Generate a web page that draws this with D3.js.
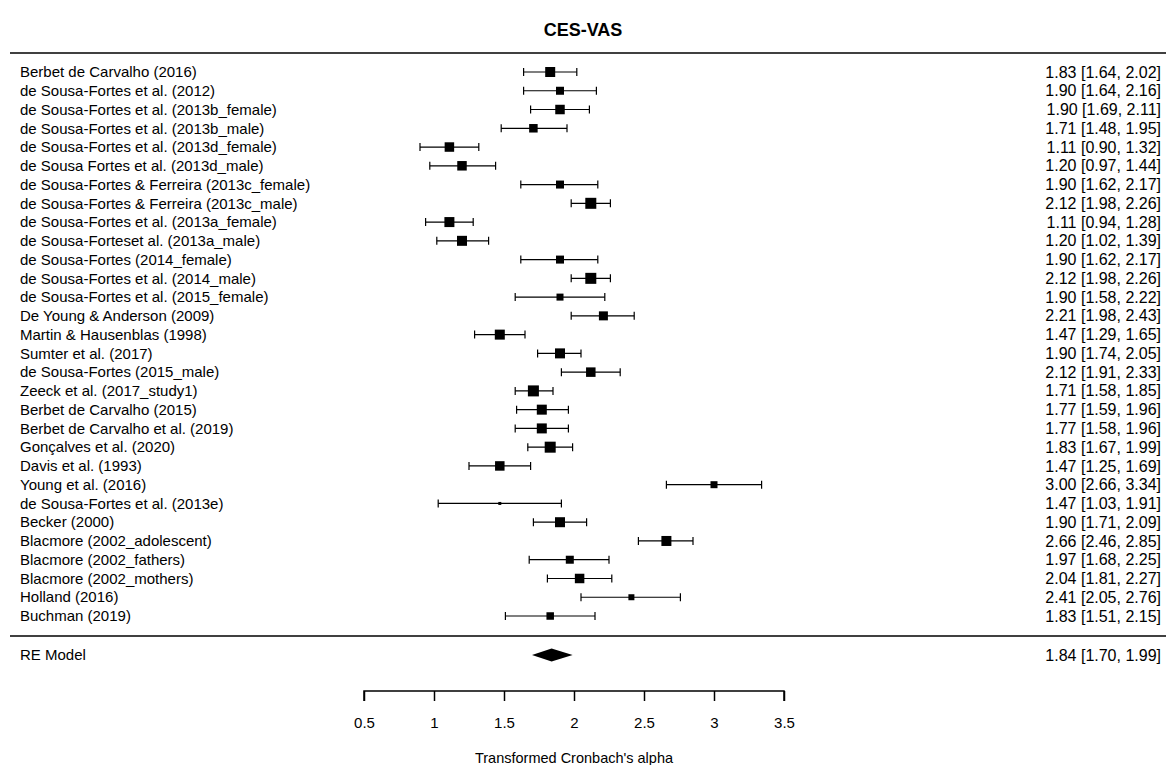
<!DOCTYPE html>
<html>
<head>
<meta charset="utf-8">
<script src="https://cdn.jsdelivr.net/npm/d3@7"></script>
<style>
  body { margin: 0; background: #fff; }
  svg { display: block; font-family: "Liberation Sans", Arial, sans-serif; }
</style>
</head>
<body>
<svg id="chart" width="1166" height="765"></svg>
<script>
const studies = [
  'Berbet de Carvalho (2016)',
  'de Sousa-Fortes et al. (2012)',
  'de Sousa-Fortes et al. (2013b_female)',
  'de Sousa-Fortes et al. (2013b_male)',
  'de Sousa-Fortes et al. (2013d_female)',
  'de Sousa Fortes et al. (2013d_male)',
  'de Sousa-Fortes & Ferreira (2013c_female)',
  'de Sousa-Fortes & Ferreira (2013c_male)',
  'de Sousa-Fortes et al. (2013a_female)',
  'de Sousa-Forteset al. (2013a_male)',
  'de Sousa-Fortes (2014_female)',
  'de Sousa-Fortes et al. (2014_male)',
  'de Sousa-Fortes et al. (2015_female)',
  'De Young & Anderson (2009)',
  'Martin & Hausenblas (1998)',
  'Sumter et al. (2017)',
  'de Sousa-Fortes (2015_male)',
  'Zeeck et al. (2017_study1)',
  'Berbet de Carvalho (2015)',
  'Berbet de Carvalho et al. (2019)',
  'Gonçalves et al. (2020)',
  'Davis et al. (1993)',
  'Young et al. (2016)',
  'de Sousa-Fortes et al. (2013e)',
  'Becker (2000)',
  'Blacmore (2002_adolescent)',
  'Blacmore (2002_fathers)',
  'Blacmore (2002_mothers)',
  'Holland (2016)',
  'Buchman (2019)'
];
const estimates = [1.83, 1.90, 1.90, 1.71, 1.11, 1.20, 1.90, 2.12, 1.11, 1.20, 1.90, 2.12, 1.90, 2.21, 1.47,
  1.90, 2.12, 1.71, 1.77, 1.77, 1.83, 1.47, 3.00, 1.47, 1.90, 2.66, 1.97, 2.04, 2.41, 1.83];
const lower = [1.64, 1.64, 1.69, 1.48, 0.90, 0.97, 1.62, 1.98, 0.94, 1.02, 1.62, 1.98, 1.58, 1.98, 1.29,
  1.74, 1.91, 1.58, 1.59, 1.58, 1.67, 1.25, 2.66, 1.03, 1.71, 2.46, 1.68, 1.81, 2.05, 1.51];
const upper = [2.02, 2.16, 2.11, 1.95, 1.32, 1.44, 2.17, 2.26, 1.28, 1.39, 2.17, 2.26, 2.22, 2.43, 1.65,
  2.05, 2.33, 1.85, 1.96, 1.96, 1.99, 1.69, 3.34, 1.91, 2.09, 2.85, 2.25, 2.27, 2.76, 2.15];
// relative weights (drive square size)
const weights = [10, 8, 9.5, 8.5, 9.5, 9.5, 8, 11, 10, 10, 8, 11, 7, 9, 10,
  10, 9.5, 11, 10, 10, 11, 9.5, 7, 3, 10, 10, 8, 9.5, 6, 7.5];
const summary = { label: 'RE Model', est: 1.84, lo: 1.70, hi: 1.99 };
const xTicks = [0.5, 1, 1.5, 2, 2.5, 3, 3.5];

const svg = d3.select('#chart');
const fmt = d3.format('.2f');
const fs = '15px';

const x = d3.scaleLinear().domain([0.5, 3.5]).range([364, 784]);
const y = d3.scalePoint().domain(d3.range(studies.length)).range([72, 616]);
const size = d3.scaleLinear().domain([0, 11]).range([0, 11]);
const ySum = 655;

// title
svg.append('text')
  .attr('x', 583).attr('y', 36)
  .attr('text-anchor', 'middle')
  .style('font-size', '18px').style('font-weight', 'bold')
  .text('CES-VAS');

// separators
svg.append('line').attr('x1', 10).attr('x2', 1166).attr('y1', 53).attr('y2', 53)
  .attr('stroke', '#000').attr('stroke-width', 1.5);
svg.append('line').attr('x1', 10).attr('x2', 1166).attr('y1', 636).attr('y2', 636)
  .attr('stroke', '#000').attr('stroke-width', 1.5);

const rows = svg.append('g').selectAll('g')
  .data(studies.map((s, i) => ({ s, i, est: estimates[i], lo: lower[i], hi: upper[i], w: weights[i] })))
  .join('g');

rows.append('text')
  .attr('x', 20).attr('y', d => y(d.i)).attr('dy', '0.35em')
  .style('font-size', fs)
  .text(d => d.s);

rows.append('text')
  .attr('x', 1161).attr('y', d => y(d.i)).attr('dy', '0.35em')
  .attr('text-anchor', 'end')
  .style('font-size', '16px')
  .text(d => `${fmt(d.est)} [${fmt(d.lo)}, ${fmt(d.hi)}]`);

rows.append('line')
  .attr('x1', d => x(d.lo)).attr('x2', d => x(d.hi))
  .attr('y1', d => y(d.i)).attr('y2', d => y(d.i))
  .attr('stroke', '#000').attr('stroke-width', 1.2);

rows.selectAll('.cap')
  .data(d => [d.lo, d.hi].map(v => ({ v, i: d.i })))
  .join('line')
  .attr('class', 'cap')
  .attr('x1', d => x(d.v)).attr('x2', d => x(d.v))
  .attr('y1', d => y(d.i) - 4).attr('y2', d => y(d.i) + 4)
  .attr('stroke', '#000').attr('stroke-width', 1.2);

rows.append('rect')
  .attr('x', d => x(d.est) - size(d.w) / 2)
  .attr('y', d => y(d.i) - size(d.w) / 2)
  .attr('width', d => size(d.w)).attr('height', d => size(d.w))
  .attr('fill', '#000');

// summary
svg.append('text')
  .attr('x', 20).attr('y', ySum).attr('dy', '0.35em')
  .style('font-size', fs)
  .text(summary.label);
svg.append('text')
  .attr('x', 1161).attr('y', ySum).attr('dy', '0.35em')
  .attr('text-anchor', 'end')
  .style('font-size', '16px')
  .text(`${fmt(summary.est)} [${fmt(summary.lo)}, ${fmt(summary.hi)}]`);
svg.append('polygon')
  .attr('points', [
    [x(summary.lo), ySum], [x(summary.est), ySum - 6.5],
    [x(summary.hi), ySum], [x(summary.est), ySum + 6.5]
  ].map(p => p.join(',')).join(' '))
  .attr('fill', '#000');

// x axis
const axis = svg.append('g')
  .attr('transform', 'translate(0,691)')
  .call(d3.axisBottom(x).tickValues(xTicks).tickFormat(d3.format('')).tickSize(10).tickPadding(16));
axis.select('.domain').attr('stroke-width', 1.5).attr('d', `M${x(0.5)},10V0H${x(3.5)}V10`);
axis.selectAll('.tick line').attr('stroke-width', 1.5);
axis.selectAll('text').style('font-size', fs).style('font-family', '"Liberation Sans", Arial, sans-serif');

svg.append('text')
  .attr('x', x(2)).attr('y', 763)
  .attr('text-anchor', 'middle')
  .style('font-size', '14.5px')
  .text("Transformed Cronbach's alpha");
</script>
</body>
</html>
